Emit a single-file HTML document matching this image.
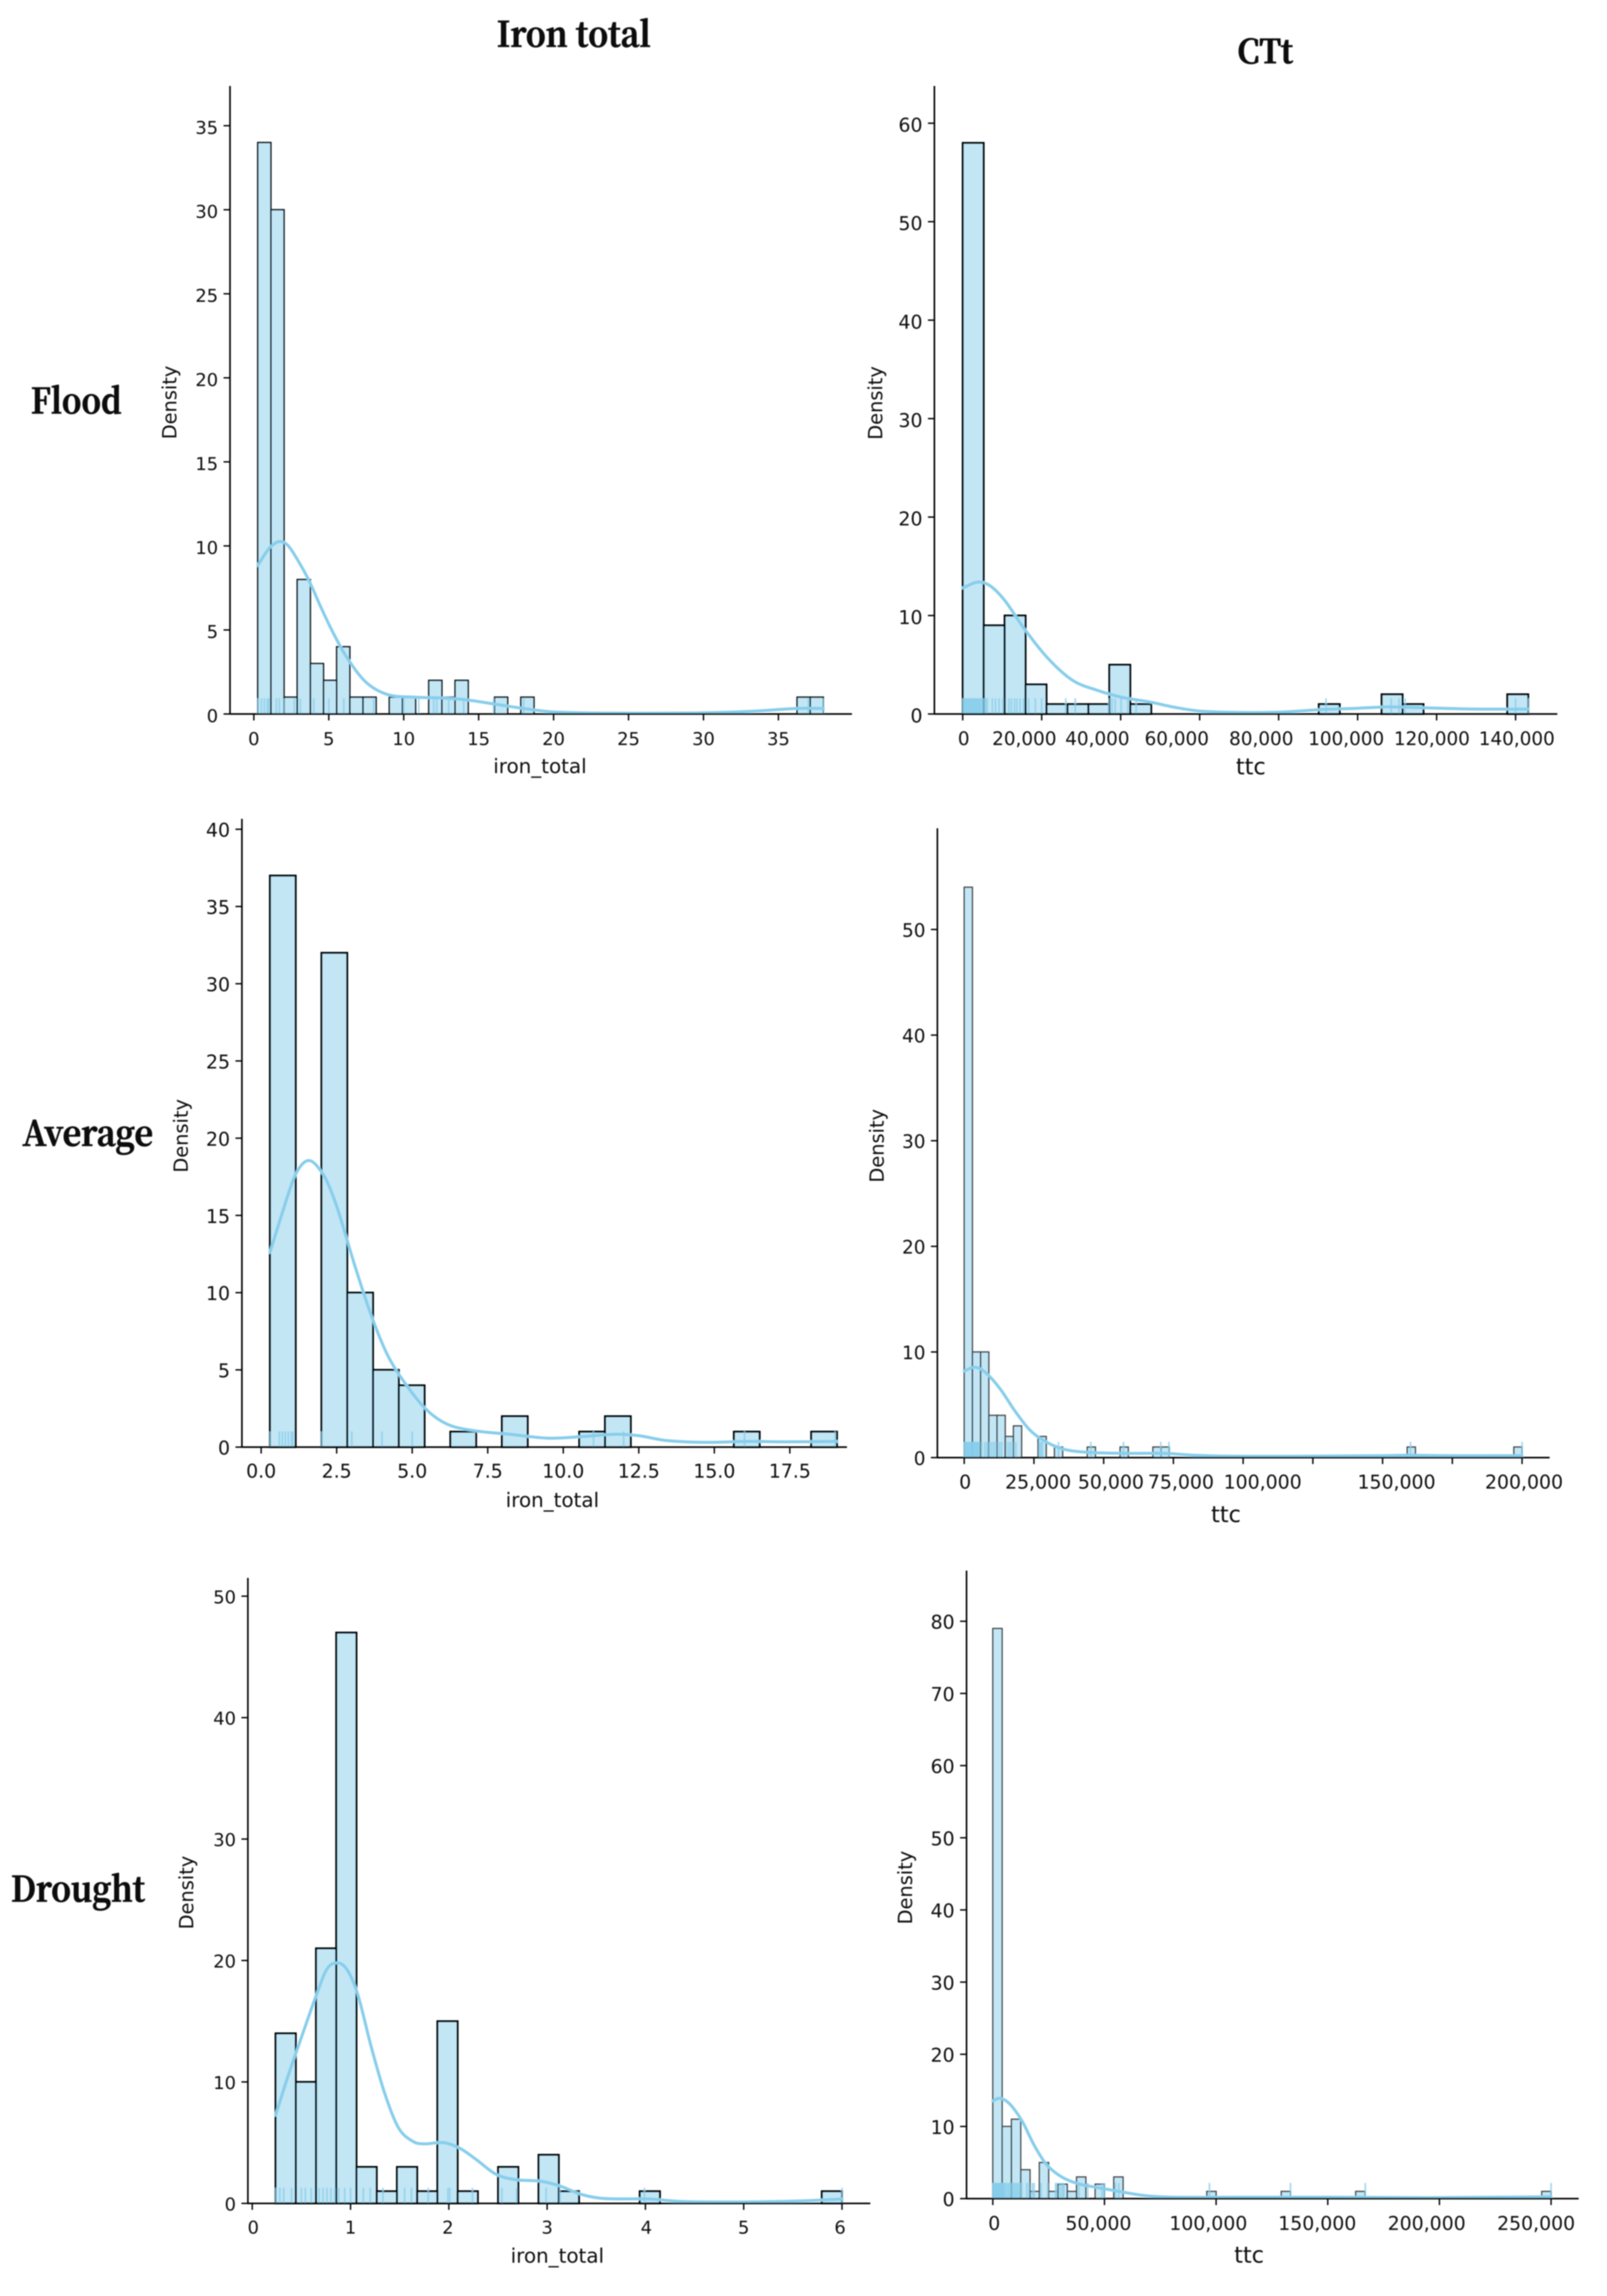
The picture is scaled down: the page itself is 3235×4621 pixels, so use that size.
<!DOCTYPE html>
<html lang="en">
<head>
<meta charset="utf-8">
<title>Iron total and CTt distributions by condition</title>
<style>
html,body{margin:0;padding:0;background:#fff;}
svg{display:block;}
.tick-text{font-family:"DejaVu Sans","Liberation Sans",sans-serif;fill:#0c0c0c;}
.head{font-family:"Noto Serif CJK SC","Liberation Serif",serif;font-weight:bold;fill:#0a0a0a;stroke:#0a0a0a;stroke-width:1.6;}
</style>
</head>
<body>
<svg id="chart" xmlns="http://www.w3.org/2000/svg" width="3235" height="4621" viewBox="0 0 3235 4621">
<defs>
<filter id="soft" filterUnits="userSpaceOnUse" x="0" y="0" width="3235" height="4621"><feGaussianBlur stdDeviation="0.95"/></filter>
</defs>
<rect x="0" y="0" width="3235" height="4621" fill="#ffffff"/>
<g id="root" filter="url(#soft)">
<text class="head" x="1000" y="94" font-size="70" textLength="310" lengthAdjust="spacingAndGlyphs">Iron total</text>
<text class="head" x="2491" y="127" font-size="66" textLength="112" lengthAdjust="spacingAndGlyphs">CTt</text>
<text class="head" x="62" y="832" font-size="70" textLength="183" lengthAdjust="spacingAndGlyphs">Flood</text>
<text class="head" x="45" y="2306" font-size="70" textLength="263" lengthAdjust="spacingAndGlyphs">Average</text>
<text class="head" x="22" y="3827" font-size="70" textLength="270" lengthAdjust="spacingAndGlyphs">Drought</text>
</g>
</svg>
<script>
/* ---------- Flood / iron_total ---------- */
const floodIronRange = [0.26, 38];
const floodIronCounts = [34,30,1,8,3,2,4,1,1,0,1,1,0,2,1,2,0,0,1,0,1,0,0,0,0,0,0,0,0,0,0,0,0,0,0,0,0,0,0,0,0,1,1];
const floodIronKdeX = [0.26,0.81,1.18,1.74,2.3,3.03,3.7,4.5,5.25,6.18,7.47,8.95,10.8,12.65,14.1,16.35,18.2,20,23.75,29.3,33,36.3,38];
const floodIronKdeY = [8.84,9.6,10.0,10.26,10.0,9.0,7.9,6.3,4.9,3.4,1.9,1.15,1.0,0.95,0.85,0.55,0.3,0.12,0.05,0.06,0.15,0.33,0.33];
const floodIronRug = [0.26,0.5,0.7,0.9,1.0,1.5,1.7,2.0,2.7,3.1,4.0,5.0,6.0,8.0,10.0,11.0,12.0,12.2,13.0,14.0,16.0,18.0,37.0,38.0];
const floodIronXTicks = [0,5,10,15,20,25,30,35];
const floodIronXLabels = ["0","5","10","15","20","25","30","35"];
const floodIronXLabelAt = [0,5,10,15,20,25,30,35];
const floodIronYTicks = [0,5,10,15,20,25,30,35];

/* ---------- Flood / ttc ---------- */
const floodTtcRange = [0, 143200];
const floodTtcCounts = [58,9,10,3,1,1,1,5,1,0,0,0,0,0,0,0,0,1,0,0,2,1,0,0,0,0,2];
const floodTtcKdeX = [0,3900,7000,10700,15600,21800,27900,34100,40250,47600,53800,60000,71000,80900,91300,99300,107900,117800,130000,143200];
const floodTtcKdeY = [12.8,13.4,13.0,11.5,8.65,5.56,3.4,2.4,1.7,1.2,0.67,0.3,0.15,0.2,0.46,0.57,0.72,0.62,0.5,0.5];
const floodTtcRug = [50,250,500,700,950,1200,1400,1650,1900,2100,2400,2600,2850,3100,3300,3600,3800,4100,4300,4600,4900,5200,5500,5800,6200,7500,8300,9200,10200,11700,12300,13100,13700,14500,15400,16700,18400,20000,26100,28500,37000,37800,38600,40100,41800,43900,92000,108500,110500,112000,140000,143200];
const floodTtcXTicks = [0,20000,40000,60000,80000,100000,120000,140000];
const floodTtcXLabels = ["0","20,000","40,000","60,000","80,000","100,000","120,000","140,000"];
const floodTtcXLabelAt = [250,15600,34100,54200,75600,97100,118800,140300];
const floodTtcYTicks = [0,10,20,30,40,50,60];

/* ---------- Average / iron_total ---------- */
const averageIronRange = [0.29, 19.06];
const averageIronCounts = [37,0,32,10,5,4,0,1,0,2,0,0,1,2,0,0,0,0,1,0,0,1];
const averageIronKdeX = [0.29,0.72,1.08,1.35,1.6,1.85,2.18,2.55,3.1,3.65,4.2,4.85,5.5,6.2,7.1,8.24,9.5,10.6,11.7,12.5,13.4,14.7,16.1,17.4,19.06];
const averageIronKdeY = [12.6,15.3,17.4,18.3,18.55,18.2,17.2,15.3,11.75,8.5,5.9,3.9,2.37,1.45,1.05,0.83,0.58,0.68,0.83,0.74,0.43,0.31,0.37,0.34,0.37];
const averageIronRug = [0.3,0.6,0.7,0.8,0.9,1.0,1.05,2.0,3.0,4.0,5.0,11.0,12.0,16.0,19.0];
const averageIronXTicks = [0,2.5,5,7.5,10,12.5,15,17.5];
const averageIronXLabels = ["0.0","2.5","5.0","7.5","10.0","12.5","15.0","17.5"];
const averageIronXLabelAt = [0,2.5,5,7.5,10,12.5,15,17.5];
const averageIronYTicks = [0,5,10,15,20,25,30,35,40];

/* ---------- Average / ttc ---------- */
const averageTtcRange = [0, 200000];
const averageTtcCounts = [54,10,10,4,4,2,3,0,0,2,0,1,0,0,0,1,0,0,0,1,0,0,0,1,1,0,0,0,0,0,0,0,0,0,0,0,0,0,0,0,0,0,0,0,0,0,0,0,0,0,0,0,0,0,1,0,0,0,0,0,0,0,0,0,0,0,0,1];
const averageTtcKdeX = [0,3800,7670,12900,18100,23400,28600,35600,44300,58200,72200,82600,96600,122700,148900,159300,175000,200000];
const averageTtcKdeY = [8.2,8.55,8.05,6.5,4.45,2.65,1.6,0.8,0.5,0.4,0.4,0.22,0.13,0.13,0.18,0.22,0.18,0.18];
const averageTtcRug = [50,300,550,800,1050,1300,1550,1800,2050,2300,2550,2800,3050,3300,3550,3800,4050,4300,4550,4800,5050,5300,6200,7400,8200,9000,9800,10600,11400,12600,13400,15700,16500,17300,18500,26900,27400,28000,33800,45400,57100,70500,73400,160000,200000];
const averageTtcXTicks = [0,25000,50000,75000,100000,125000,150000,175000,200000];
const averageTtcXLabels = ["0","25,000","50,000","75,000","100,000","150,000","200,000"];
const averageTtcXLabelAt = [350,26500,52600,77700,107000,155000,200700];
const averageTtcYTicks = [0,10,20,30,40,50];

/* ---------- Drought / iron_total ---------- */
const droughtIronRange = [0.237, 6.0];
const droughtIronCounts = [14,10,21,47,3,1,3,1,15,1,0,3,0,4,1,0,0,0,1,0,0,0,0,0,0,0,0,1];
const droughtIronKdeX = [0.237,0.367,0.51,0.65,0.76,0.863,0.96,1.07,1.21,1.35,1.49,1.64,1.75,1.95,2.12,2.28,2.48,2.68,2.93,3.13,3.36,3.58,4.03,4.37,4.99,5.56,6.0];
const droughtIronKdeY = [7.26,10.55,13.9,17.1,19.3,19.8,19.3,17.3,12.9,9.0,6.2,5.08,4.9,5.0,4.5,3.6,2.4,1.95,1.83,1.43,0.71,0.4,0.36,0.16,0.12,0.2,0.36];
const droughtIronRug = [0.24,0.28,0.32,0.4,0.5,0.54,0.6,0.68,0.72,0.76,0.8,0.84,0.88,0.94,1.0,1.13,1.2,1.33,1.55,1.62,1.79,1.99,2.01,2.24,2.54,2.69,2.99,3.13,3.99,6.0];
const droughtIronXTicks = [0,1,2,3,4,5,6];
const droughtIronXLabels = ["0","1","2","3","4","5","6"];
const droughtIronXLabelAt = [0.01,1,1.99,3,4.01,5,5.98];
const droughtIronYTicks = [0,10,20,30,40,50];

/* ---------- Drought / ttc ---------- */
const droughtTtcRange = [0, 250000];
const droughtTtcCounts = [79,10,11,4,1,5,1,2,1,3,0,2,0,3,0,0,0,0,0,0,0,0,0,1,0,0,0,0,0,0,0,1,0,0,0,0,0,0,0,1,0,0,0,0,0,0,0,0,0,0,0,0,0,0,0,0,0,0,0,1];
const droughtTtcKdeX = [0,3270,7600,13100,18500,24000,30500,38100,46800,57700,68600,81700,107800,151400,195000,250000];
const droughtTtcKdeY = [13.55,13.9,13.1,10.75,7.4,4.74,3.07,2.07,1.54,0.93,0.4,0.2,0.2,0.2,0.13,0.27];
const droughtTtcRug = [0,200,450,700,950,1200,1450,1700,1950,2200,2450,2700,2950,3200,3450,3700,3950,4200,4450,4700,4950,5200,5900,6600,7300,8000,8700,9400,10100,10800,11500,12200,12900,15200,16200,17700,18500,21600,24600,28100,28600,30100,31100,31800,38500,42500,48900,49900,54900,56400,97000,133300,166800,250000];
const droughtTtcXTicks = [0,50000,100000,150000,200000,250000];
const droughtTtcXLabels = ["0","50,000","100,000","150,000","200,000","250,000"];
const droughtTtcXLabelAt = [650,47300,96500,145300,194300,243300];
const droughtTtcYTicks = [0,10,20,30,40,50,60,70,80];

const SVG_NS = "http://www.w3.org/2000/svg";
const root = document.getElementById("root");
const SKY = "#87ceeb";

function make(tag, attrs, parent) {
  const el = document.createElementNS(SVG_NS, tag);
  Object.keys(attrs).forEach(function (k) { el.setAttribute(k, attrs[k]); });
  parent.appendChild(el);
  return el;
}
function linear(d0, d1, r0, r1) {
  return function (v) { return r0 + (v - d0) / (d1 - d0) * (r1 - r0); };
}
/* cubic Hermite through the points, tangents from neighbouring finite differences */
function smoothPath(xs, ys) {
  const n = xs.length;
  const m = xs.map(function (_, i) {
    const a = Math.max(i - 1, 0), b = Math.min(i + 1, n - 1);
    return (ys[b] - ys[a]) / (xs[b] - xs[a]);
  });
  let d = "M" + xs[0].toFixed(1) + " " + ys[0].toFixed(1);
  for (let i = 0; i < n - 1; i++) {
    const dx = (xs[i + 1] - xs[i]) / 3;
    d += "C" + (xs[i] + dx).toFixed(1) + " " + (ys[i] + m[i] * dx).toFixed(1) + " " +
         (xs[i + 1] - dx).toFixed(1) + " " + (ys[i + 1] - m[i + 1] * dx).toFixed(1) + " " +
         xs[i + 1].toFixed(1) + " " + ys[i + 1].toFixed(1);
  }
  return d;
}

/* Axis geometry: left spine, baseline, top, right end; reference tick pairs map data to the canvas. */
const panels = [
  { id:"flood-iron", left:463, bottom:1437, top:173, right:1715, xA:[0,511], xB:[35,1567], yA:[0,1437], yB:[35,253],
    range:floodIronRange, counts:floodIronCounts, kdeX:floodIronKdeX, kdeY:floodIronKdeY, rug:floodIronRug,
    xTicks:floodIronXTicks, xLabels:floodIronXLabels, xLabelAt:floodIronXLabelAt, yTicks:floodIronYTicks,
    edge:"#0a0a0a", edgeW:2.8, xFont:36, yFont:36, yShift:3, labelY:1486, xTitle:"iron_total", xTitleX:1087, xTitleY:1543, xTitleFont:40, yTitleX:343, yTitleY:810 },
  { id:"flood-ttc", left:1881, bottom:1437, top:173, right:3135, xA:[0,1938], xB:[140000,3051], yA:[0,1437], yB:[60,248],
    range:floodTtcRange, counts:floodTtcCounts, kdeX:floodTtcKdeX, kdeY:floodTtcKdeY, rug:floodTtcRug,
    xTicks:floodTtcXTicks, xLabels:floodTtcXLabels, xLabelAt:floodTtcXLabelAt, yTicks:floodTtcYTicks,
    edge:"#000", edgeW:3.8, xFont:37, yFont:38, yShift:3, labelY:1486, xTitle:"ttc", xTitleX:2518, xTitleY:1544, xTitleFont:45, yTitleX:1764, yTitleY:811 },
  { id:"average-iron", left:487, bottom:2912.5, top:1648, right:1705, xA:[0,525.7], xB:[17.5,1590], yA:[0,2912.5], yB:[40,1669],
    range:averageIronRange, counts:averageIronCounts, kdeX:averageIronKdeX, kdeY:averageIronKdeY, rug:averageIronRug,
    xTicks:averageIronXTicks, xLabels:averageIronXLabels, xLabelAt:averageIronXLabelAt, yTicks:averageIronYTicks,
    edge:"#000", edgeW:3.8, xFont:38, yFont:38, yShift:1, labelY:2960, xTitle:"iron_total", xTitleX:1112, xTitleY:3020, xTitleFont:40, yTitleX:366, yTitleY:2286 },
  { id:"average-ttc", left:1887, bottom:2933.6, top:1667, right:3119.5, xA:[0,1941], xB:[200000,3064], yA:[0,2933.6], yB:[50,1870.7],
    range:averageTtcRange, counts:averageTtcCounts, kdeX:averageTtcKdeX, kdeY:averageTtcKdeY, rug:averageTtcRug,
    xTicks:averageTtcXTicks, xLabels:averageTtcXLabels, xLabelAt:averageTtcXLabelAt, yTicks:averageTtcYTicks,
    edge:"#444", edgeW:2.6, xFont:38, yFont:37, yShift:1, labelY:2982, xTitle:"ttc", xTitleX:2468, xTitleY:3049, xTitleFont:45, yTitleX:1767, yTitleY:2306 },
  { id:"drought-iron", left:499, bottom:4434.6, top:3175.7, right:1752, xA:[0,507.8], xB:[6,1695], yA:[0,4434.6], yB:[50,3212.5],
    range:droughtIronRange, counts:droughtIronCounts, kdeX:droughtIronKdeX, kdeY:droughtIronKdeY, rug:droughtIronRug,
    xTicks:droughtIronXTicks, xLabels:droughtIronXLabels, xLabelAt:droughtIronXLabelAt, yTicks:droughtIronYTicks,
    edge:"#000", edgeW:3.8, xFont:36, yFont:36, yShift:1, labelY:4482, xTitle:"iron_total", xTitleX:1122, xTitleY:4541, xTitleFont:40, yTitleX:377, yTitleY:3809 },
  { id:"drought-ttc", left:1945.7, bottom:4425, top:3161, right:3178, xA:[0,1998.6], xB:[250000,3122.4], yA:[0,4425], yB:[80,3263],
    range:droughtTtcRange, counts:droughtTtcCounts, kdeX:droughtTtcKdeX, kdeY:droughtTtcKdeY, rug:droughtTtcRug,
    xTicks:droughtTtcXTicks, xLabels:droughtTtcXLabels, xLabelAt:droughtTtcXLabelAt, yTicks:droughtTtcYTicks,
    edge:"#444", edgeW:2.6, xFont:38, yFont:38, yShift:1, labelY:4474, xTitle:"ttc", xTitleX:2514.5, xTitleY:4539.5, xTitleFont:45, yTitleX:1824, yTitleY:3799 }
];

panels.forEach(function (p) {
  const x = linear(p.xA[0], p.xB[0], p.xA[1], p.xB[1]);
  const y = linear(p.yA[0], p.yB[0], p.yA[1], p.yB[1]);
  const g = make("g", {}, root);
  
  

  /* histogram bars */
  const binW = (p.range[1] - p.range[0]) / p.counts.length;
  p.counts.forEach(function (count, i) {
    const x0 = x(p.range[0] + i * binW), x1 = x(p.range[0] + (i + 1) * binW);
    const bar = make("rect", { x:x0.toFixed(2), y:y(count).toFixed(2), width:(x1 - x0).toFixed(2), height:(y(0) - y(count)).toFixed(2),
      fill:SKY, "fill-opacity":0.5, stroke:p.edge, "stroke-width":p.edgeW }, g);
    
    
  });

  /* KDE curve */
  const curve = make("path", { d:smoothPath(p.kdeX.map(x), p.kdeY.map(y)), fill:"none", stroke:SKY, "stroke-width":6, "stroke-linecap":"round", "stroke-linejoin":"round" }, g);
  
  

  /* rug marks: 2.5% of the axes height */
  const rugH = (p.bottom - p.top) * 0.025;
  p.rug.forEach(function (v) {
    const mark = make("line", { x1:x(v).toFixed(2), x2:x(v).toFixed(2), y1:p.bottom, y2:p.bottom - rugH, stroke:SKY, "stroke-width":3.4, "stroke-opacity":0.75 }, g);
    
    
  });

  /* spines */
  const ySpine = make("line", { x1:p.left, x2:p.left, y1:p.top, y2:p.bottom + 1.5, stroke:"#000", "stroke-width":3.2 }, g);
  
  
  const xSpine = make("line", { x1:p.left, x2:p.right, y1:p.bottom, y2:p.bottom, stroke:"#000", "stroke-width":3.2 }, g);
  
  

  /* y ticks */
  p.yTicks.forEach(function (v) {
    const tick = make("line", { x1:p.left - 13, x2:p.left, y1:y(v).toFixed(2), y2:y(v).toFixed(2), stroke:"#000", "stroke-width":2.8 }, g);
    
    
    const label = make("text", { class:"tick-text", x:p.left - 24, y:(y(v) + p.yFont * 0.37 + p.yShift).toFixed(2), "font-size":p.yFont, "text-anchor":"end" }, g);
    label.textContent = String(v);
    
    
  });

  /* x ticks */
  p.xTicks.forEach(function (v) {
    const tick = make("line", { x1:x(v).toFixed(2), x2:x(v).toFixed(2), y1:p.bottom, y2:p.bottom + 13, stroke:"#000", "stroke-width":2.8 }, g);
    
    
  });
  p.xLabels.forEach(function (txt, i) {
    const label = make("text", { class:"tick-text", x:x(p.xLabelAt[i]).toFixed(2), y:(p.labelY + p.xFont * 0.37).toFixed(2), "font-size":p.xFont, "text-anchor":"middle" }, g);
    label.textContent = txt;
    
    
  });

  /* axis titles */
  const xTitle = make("text", { class:"tick-text", x:p.xTitleX, y:p.xTitleY + p.xTitleFont * 0.32, "font-size":p.xTitleFont, "text-anchor":"middle" }, g);
  xTitle.textContent = p.xTitle;
  
  
  const yTitle = make("text", { class:"tick-text", x:0, y:0, "font-size":39, "text-anchor":"middle",
    transform:"translate(" + (p.yTitleX + 12) + " " + p.yTitleY + ") rotate(-90)" }, g);
  yTitle.textContent = "Density";
  
  
});
</script>
</body>
</html>
